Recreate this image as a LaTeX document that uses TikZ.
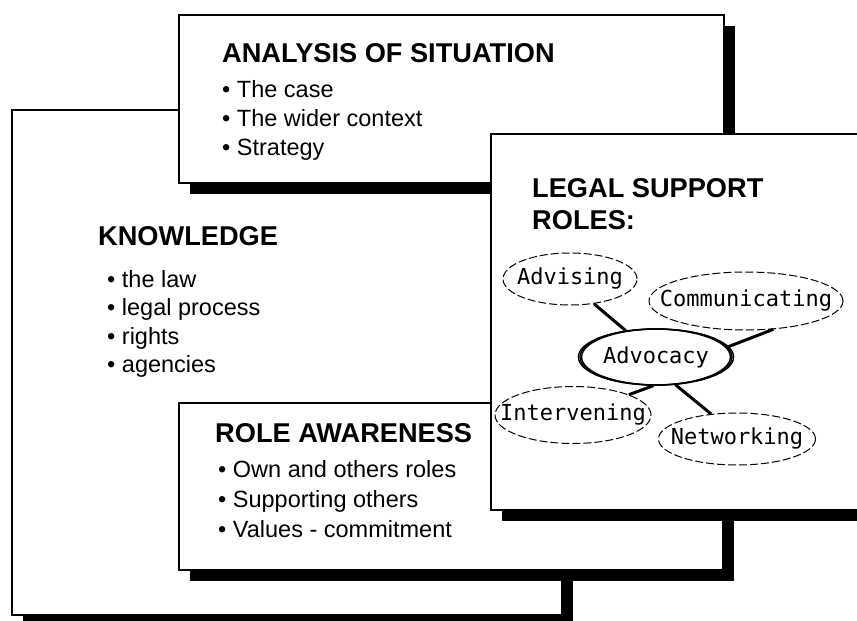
\documentclass[tikz,border=0pt]{standalone}
\usepackage{fontspec}
\setmainfont{Liberation Sans}
\newfontfamily\rolefont{DejaVu Sans Mono}
\usetikzlibrary{shapes,shadows,positioning}

\begin{document}
\begin{tikzpicture}[x=1pt,y=-1pt,
  box/.style={rectangle, draw, line width=1.5pt, fill=white, inner sep=0pt,
    drop shadow={shadow xshift=10.5pt, shadow yshift=-10.5pt, fill=black, opacity=1}},
  heading/.style={anchor=base west, inner sep=0pt, font=\fontsize{27.2}{32}\selectfont\bfseries},
  item/.style={anchor=base west, inner sep=0pt, font=\fontsize{23.5}{28}\selectfont},
  role/.style={ellipse, draw, dash pattern=on 8pt off 3pt, line width=1pt, inner sep=0pt,
    label={[inner sep=0pt, font=\rolefont\fontsize{22}{26}\selectfont]center:#1}},
  % heavy sides, as drawn with a wide pen
  hub/.style={solid, line width=1.4pt,
    preaction={draw, transform canvas={xshift=-1.6pt}},
    postaction={draw, transform canvas={xshift=1.6pt}}},
  link/.style={line width=3pt}]

\clip (0,0) rectangle (857,621);

% knowledge
\node[box, minimum width=550pt, minimum height=505pt] (know) at (287,362.5) {};
\node[heading] (knowhead) at (98,245) {KNOWLEDGE};
\foreach \t [count=\i] in {the law, legal process, rights, agencies}
  \node[item] (kn\i) at (107,258.5+28.5*\i) {• \t};

% analysis of situation
\node[box, minimum width=545pt, minimum height=168pt] (sit) at (451.5,99) {};
\node[heading] (sithead) at (222,62) {ANALYSIS OF SITUATION};
\foreach \t [count=\i] in {The case, The wider context, Strategy}
  \node[item] (sit\i) at (222,68+29*\i) {• \t};

% role awareness
\node[box, minimum width=544pt, minimum height=167pt] (aware) at (451,486.5) {};
\node[heading] (awarehead) at (215,442) {ROLE AWARENESS};
\foreach \t [count=\i] in {Own and others roles, Supporting others, Values - commitment}
  \node[item] (aw\i) at (218,447+30*\i) {• \t};

% legal support roles
\node[box, minimum width=389pt, minimum height=376pt] (legal) at (685.5,322) {};
\node[heading, align=left, anchor=north west] (legalhead) at (532,178) {LEGAL SUPPORT\\ROLES:};

\node[role=Advising, minimum width=134pt, minimum height=52pt] (advising) at (570,279) {};
\node[role=Communicating, minimum width=194pt, minimum height=58pt] (communicating) at (746,301) {};
\node[role=Advocacy, hub, minimum width=152pt, minimum height=56pt] (advocacy) at (656,357) {};
\node[role=Intervening, minimum width=156pt, minimum height=57pt] (intervening) at (573,415) {};
\node[role=Networking, minimum width=157pt, minimum height=52pt] (networking) at (737,439) {};

\draw[link] (advising.-46) -- (advocacy.139);
\draw[link] (communicating.-46) -- (advocacy.8);
\draw[link] (advocacy.-95) -- (intervening.20);
\draw[link] (advocacy.-55) -- (networking.136);
\end{tikzpicture}
\end{document}
